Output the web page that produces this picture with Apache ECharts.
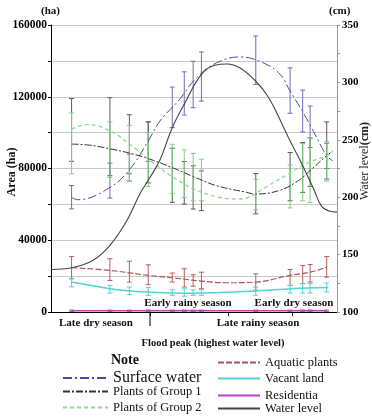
<!DOCTYPE html>
<html>
<head>
<meta charset="utf-8">
<script src="https://cdn.jsdelivr.net/npm/echarts@6/dist/echarts.min.js"></script>
<style>
  html, body { margin: 0; padding: 0; background: #fff; }
  #chart { width: 372px; height: 417px; }
</style>
</head>
<body>
<div id="chart"></div>
<script>
// sampling dates, as position along the hydrological year (0-100)
const sampleX = [7.2, 20.6, 27.4, 34.0, 42.4, 46.6, 49.7, 52.6, 71.6, 83.6, 88.0, 90.6, 96.4];

// error bar ranges (ha)
const surfaceLow  = [57500, 63500, 73000, 84000, 102800, 109800, 113900, 117600, 126900, 110800, 100400, 91700, 80000];
const surfaceHigh = [70500, 83000, 88000, 106000, 125400, 133900, 139800, 145000, 153900, 136100, 123700, 114800, 94000];
const group1Low   = [84000, 76000, 77000, 72000, 61100, 60200, 57400, 56500, 54700, 62000, 66700, 70000, 74100];
const group1High  = [119000, 119500, 110000, 106000, 91300, 83900, 81500, 78700, 77200, 88900, 94500, 97000, 106000];
const group2Low   = [77000, 75000, 73000, 70000, 66000, 63900, 62000, 62000, 57000, 58000, 62000, 61000, 73000];
const group2High  = [111000, 106000, 104000, 100000, 93500, 90400, 88400, 85200, 74000, 82000, 94000, 97000, 95000];
const aquaticLow  = [18600, 17600, 16700, 15200, 16700, 13900, 14400, 13000, 12100, 14800, 15800, 16700, 19400];
const aquaticHigh = [30900, 29700, 28300, 26300, 21700, 24100, 20800, 22200, 21300, 23700, 25900, 26500, 30900];
const vacantLow   = [14000, 10600, 9700, 9300, 9300, 8800, 9300, 9300, 9300, 10600, 10600, 10600, 11100];
const vacantHigh  = [18500, 14800, 13900, 13600, 12400, 12900, 12400, 12400, 13900, 14800, 15800, 15800, 16100];
const residLow    = [300, 300, 300, 300, 300, 300, 300, 300, 300, 300, 300, 300, 300];
const residHigh   = [1100, 1100, 1100, 1100, 1100, 1100, 1100, 1100, 1100, 1100, 1100, 1100, 1100];

// fitted curves [x, value]
const surfaceCurve = [[7.2, 63900], [9.4, 62600], [20.6, 69400], [27.6, 79700], [34.0, 95400], [38.1, 106500],
  [44.5, 117700], [50.9, 130600], [57.9, 138900], [66.1, 142200], [74.2, 138900], [80.1, 132500],
  [83.6, 123200], [88.2, 111100], [92.3, 99100], [96.4, 87100], [98.6, 84300]];
const group1Curve = [[7.2, 93600], [13.6, 93000], [20.6, 91000], [27.6, 88500], [34.6, 85200], [42.4, 80500],
  [49.9, 75400], [57.9, 70400], [68.4, 66700], [71.3, 65800], [79.5, 67600], [86.5, 73200],
  [91.2, 79700], [96.4, 87100], [98.6, 89800]];
const group2Curve = [[7.2, 101900], [12.5, 104500], [20.6, 101000], [27.6, 93500], [34.6, 84500], [42.4, 75500],
  [49.9, 68600], [57.9, 64300], [64.9, 63000], [69.2, 64000], [74.8, 69400], [83.0, 76900],
  [90.0, 83300], [96.4, 87100], [98.6, 89500]];
const aquaticCurve = [[7.2, 24700], [20.6, 23200], [34.0, 20400], [42.4, 19100], [52.7, 17200], [61.4, 16300],
  [71.6, 16700], [83.6, 20400], [90.6, 22200], [96.4, 25000]];
const vacantCurve = [[7.2, 16700], [20.6, 13000], [27.6, 11700], [34.0, 11100], [42.4, 10600], [50.0, 10500],
  [71.3, 11700], [84.2, 13000], [97.0, 13600]];
const residCurve = [[7.2, 700], [52.6, 700], [96.4, 700]];

// water level (cm)
const waterCurve = [[0, 137], [7.3, 138.5], [14.7, 145], [20.6, 158], [26.6, 180], [31.1, 203], [34.3, 216],
  [38.0, 232], [42.4, 260.5], [46.6, 281], [52.6, 307], [57.3, 315], [61.6, 316], [66.1, 312.5],
  [71.6, 301], [75.8, 288], [79.4, 271], [83.0, 252], [87.1, 232], [91.7, 208], [94.6, 192],
  [97.2, 188], [100, 187]];

const seasonTicks = [34.6, 61.9, 84.2];

const serif = 'Liberation Serif';

function errorBars(low, high, color) {
  return {
    type: 'custom',
    silent: true,
    z: 2,
    encode: { x: 0, y: [1, 2] },
    data: sampleX.map((x, i) => [x, low[i], high[i]]),
    renderItem(params, api) {
      const top = api.coord([api.value(0), api.value(2)]);
      const bot = api.coord([api.value(0), api.value(1)]);
      const w = 2.5;
      const style = { stroke: color, lineWidth: 1 };
      return {
        type: 'group',
        children: [
          { type: 'line', shape: { x1: top[0], y1: top[1], x2: bot[0], y2: bot[1] }, style },
          { type: 'line', shape: { x1: top[0] - w, y1: top[1], x2: top[0] + w, y2: top[1] }, style },
          { type: 'line', shape: { x1: bot[0] - w, y1: bot[1], x2: bot[0] + w, y2: bot[1] }, style }
        ]
      };
    }
  };
}

function curve(name, points, color, dash, width, yAxisIndex) {
  return {
    type: 'line',
    name,
    data: points,
    yAxisIndex: yAxisIndex || 0,
    smooth: 0.4,
    symbol: 'none',
    showSymbol: false,
    silent: true,
    z: 3,
    lineStyle: { color, width, type: dash },
    itemStyle: { color }
  };
}

function legendItem(name, left, top, width, fontSize) {
  return {
    data: [name],
    left, top,
    padding: 0,
    itemWidth: width,
    itemHeight: 8,
    selectedMode: false,
    itemStyle: { opacity: 0 },
    textStyle: { fontFamily: serif, fontSize: fontSize || 12.5, color: '#111' }
  };
}

const chart = echarts.init(document.getElementById('chart'));

chart.setOption({
  animation: false,
  backgroundColor: '#fff',
  grid: { left: 51, right: 35, top: 25, bottom: 105, outerBoundsMode: 'none' },
  xAxis: {
    type: 'value', min: 0, max: 100,
    axisLine: { show: true, lineStyle: { color: '#000', width: 1 } },
    axisTick: { show: true, customValues: seasonTicks, length: 4, lineStyle: { color: '#000' } },
    axisLabel: { show: false },
    splitLine: { show: false }
  },
  yAxis: [
    {
      type: 'value', min: 0, max: 160000, interval: 20000,
      axisLine: { show: true, lineStyle: { color: '#000' } },
      axisTick: { show: true, length: 3, lineStyle: { color: '#000' } },
      axisLabel: {
        fontFamily: serif, fontWeight: 'bold', fontSize: 11.5, color: '#000', margin: 4,
        formatter: v => (v % 40000 === 0 ? String(v) : '')
      },
      splitLine: { show: true, lineStyle: { color: '#c8c8c8', width: 1 } }
    },
    {
      type: 'value', min: 100, max: 350, interval: 25, position: 'right',
      axisLine: { show: true, lineStyle: { color: '#999' } },
      axisTick: { show: true, length: 3, lineStyle: { color: '#999' } },
      axisLabel: {
        fontFamily: serif, fontWeight: 'bold', fontSize: 11, color: '#000', margin: 5,
        formatter: v => (v % 50 === 0 ? String(v) : '')
      },
      splitLine: { show: false }
    }
  ],
  legend: [
    legendItem('Surface water', 62, 370, 45, 16),
    legendItem('Plants of Group 1', 62, 385, 45),
    legendItem('Plants of Group 2', 62, 401, 45),
    legendItem('Aquatic plants', 217, 356, 42),
    legendItem('Vacant land', 217, 372, 42),
    legendItem('Residentia', 217, 389, 42),
    legendItem('Water level', 217, 402, 42)
  ],
  graphic: [
    { type: 'text', left: 41, top: 6, style: { text: '(ha)', font: 'bold 11px "Liberation Serif"', fill: '#111' } },
    { type: 'text', left: 329, top: 6, style: { text: '(cm)', font: 'bold 11px "Liberation Serif"', fill: '#111' } },
    {
      type: 'text', x: 12, y: 172, rotation: Math.PI / 2,
      style: { text: 'Area (ha)', font: 'bold 12px "Liberation Serif"', fill: '#111', align: 'center', verticalAlign: 'middle' }
    },
    {
      type: 'text', x: 365, y: 161, rotation: Math.PI / 2,
      style: {
        text: '{n|Water level}{b|(cm)}', align: 'center', verticalAlign: 'middle',
        rich: {
          n: { font: '12px "Liberation Serif"', fill: '#222' },
          b: { font: 'bold 12px "Liberation Serif"', fill: '#222' }
        }
      }
    },
    { type: 'line', shape: { x1: 150, y1: 312, x2: 150, y2: 326 }, style: { stroke: '#000', lineWidth: 1 } },
    { type: 'text', x: 188, y: 303, style: { text: 'Early rainy season', font: 'bold 11px "Liberation Serif"', fill: '#111', align: 'center', verticalAlign: 'middle' } },
    { type: 'text', x: 294, y: 303, style: { text: 'Early dry season', font: 'bold 11px "Liberation Serif"', fill: '#111', align: 'center', verticalAlign: 'middle' } },
    { type: 'text', x: 96, y: 323, style: { text: 'Late dry season', font: 'bold 11px "Liberation Serif"', fill: '#111', align: 'center', verticalAlign: 'middle' } },
    { type: 'text', x: 258, y: 323, style: { text: 'Late rainy season', font: 'bold 11px "Liberation Serif"', fill: '#111', align: 'center', verticalAlign: 'middle' } },
    { type: 'text', x: 213, y: 343, style: { text: 'Flood peak (highest water level)', font: 'bold 10.5px "Liberation Serif"', fill: '#111', align: 'center', verticalAlign: 'middle' } },
    { type: 'text', x: 111, y: 360, style: { text: 'Note', font: 'bold 14px "Liberation Serif"', fill: '#111', verticalAlign: 'middle' } }
  ],
  series: [
    errorBars(surfaceLow, surfaceHigh, '#6e6eb8'),
    errorBars(group1Low, group1High, '#5a5a5a'),
    errorBars(group2Low, group2High, '#7fd07f'),
    errorBars(aquaticLow, aquaticHigh, '#b85c5c'),
    errorBars(vacantLow, vacantHigh, '#55d0d0'),
    errorBars(residLow, residHigh, '#c050c0'),
    curve('Surface water', surfaceCurve, '#4a4a9e', [9, 3, 2, 3], 1),
    curve('Plants of Group 1', group1Curve, '#333333', [7, 2, 2, 2], 1),
    curve('Plants of Group 2', group2Curve, '#8fd88f', [4, 3], 1.3),
    curve('Aquatic plants', aquaticCurve, '#a85555', [6, 2], 1.2),
    curve('Vacant land', vacantCurve, '#4fd4d4', 'solid', 1.5),
    curve('Residentia', residCurve, '#c040c0', 'solid', 1.5),
    curve('Water level', waterCurve, '#444444', 'solid', 1.1, 1)
  ]
});
</script>
</body>
</html>
